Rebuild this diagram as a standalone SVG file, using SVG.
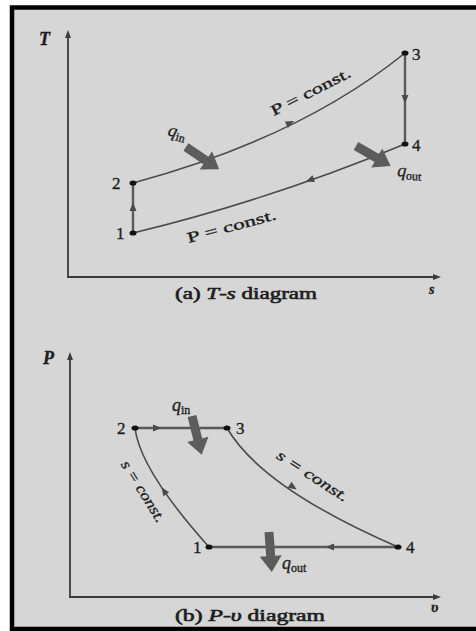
<svg xmlns="http://www.w3.org/2000/svg" width="476" height="631" viewBox="0 0 476 631">
<style>
.ax{stroke:#3c3c3c;stroke-width:1.8;fill:none}
.pr{stroke:#4a4a4a;stroke-width:1.6;fill:none}
.pv{stroke:#5a5a5a;stroke-width:2.4;fill:none}
.t{font-family:"Liberation Serif","Times New Roman",serif;fill:#1e1e1e;stroke:#1e1e1e;stroke-width:0.35}
.it{font-style:italic}
.num{font-size:17px}
.cap{font-size:16px;stroke-width:0.6}
.sub{font-size:12px}
.dot{fill:#111}
.ah{fill:#4a4a4a}
.big{fill:#5c5c5c}
</style>
<defs>
<polygon id="sa" points="4.5,0 -4,-3.5 -4,3.5"/>
<polygon id="axh" points="0,-6 -3,2 3,2"/>
<polygon id="tk" points="0,-4.5 24,-4.5 24,-11 40,0 24,11 24,4.5 0,4.5"/>
</defs>
<rect x="0" y="0" width="476" height="631" fill="#ffffff"/>
<rect x="12" y="7.5" width="480" height="621.5" fill="#d6d6d6" stroke="#000" stroke-width="4.5"/>

<g id="ts-axes">
<line class="ax" x1="68" y1="36" x2="68" y2="277"/>
<line class="ax" x1="67" y1="277" x2="434" y2="277"/>
<use href="#axh" x="68" y="36" fill="#3c3c3c"/>
<use href="#axh" transform="translate(435,277) rotate(90)" fill="#3c3c3c"/>
<text class="t it" x="39" y="45" font-size="18" font-weight="bold">T</text>
<text class="t it" x="429" y="294" font-size="14" font-weight="bold">s</text>
<text class="t cap" x="175" y="299" textLength="142" lengthAdjust="spacingAndGlyphs">(a) <tspan class="it">T</tspan>-<tspan class="it">s</tspan> diagram</text>
</g>

<g id="ts-connectors">
<path class="pr" d="M133,183 Q300,138 405,53"/>
<path class="pr" d="M133,233 Q270,200 405,144"/>
<line class="pv" x1="133" y1="233" x2="133" y2="183"/>
<line class="pv" x1="405" y1="53" x2="405" y2="144"/>
<use href="#sa" transform="translate(290,123) rotate(-26)" class="ah"/>
<use href="#sa" transform="translate(310,180) rotate(160)" class="ah"/>
<use href="#sa" transform="translate(133,207) rotate(-90)" class="ah"/>
<use href="#sa" transform="translate(405,99) rotate(90)" class="ah"/>
</g>

<g id="ts-n1"><ellipse class="dot" cx="133" cy="233" rx="3.5" ry="2.6"/><text class="t num" x="116" y="239">1</text></g>
<g id="ts-n2"><ellipse class="dot" cx="133" cy="183" rx="3.5" ry="2.6"/><text class="t num" x="112" y="189">2</text></g>
<g id="ts-n3"><ellipse class="dot" cx="405" cy="53" rx="3.5" ry="2.6"/><text class="t num" x="412" y="60">3</text></g>
<g id="ts-n4"><ellipse class="dot" cx="405" cy="144" rx="3.5" ry="2.6"/><text class="t num" x="412" y="151">4</text></g>

<g id="ts-labels">
<text class="t" font-size="15" transform="translate(313,96) rotate(-27)" text-anchor="middle" textLength="88" lengthAdjust="spacingAndGlyphs">P = const.</text>
<text class="t" font-size="15" transform="translate(233,231) rotate(-15)" text-anchor="middle" textLength="92" lengthAdjust="spacingAndGlyphs">P = const.</text>
</g>

<g id="ts-qin">
<use href="#tk" transform="translate(186,147) rotate(34)" class="big"/>
<text class="t" transform="translate(167,135) rotate(16)"><tspan class="it" font-size="18">q</tspan><tspan class="sub" dy="3">in</tspan></text>
</g>
<g id="ts-qout">
<use href="#tk" transform="translate(356,146) rotate(30)" class="big"/>
<text class="t" transform="translate(397,176) rotate(4)"><tspan class="it" font-size="18">q</tspan><tspan class="sub" dy="3">out</tspan></text>
</g>

<g id="pv-axes">
<line class="ax" x1="70" y1="358" x2="70" y2="597"/>
<line class="ax" x1="69" y1="597" x2="434" y2="597"/>
<use href="#axh" x="70" y="358" fill="#3c3c3c"/>
<use href="#axh" transform="translate(435,597) rotate(90)" fill="#3c3c3c"/>
<text class="t it" x="43" y="364" font-size="18" font-weight="bold">P</text>
<text class="t it" x="431" y="612" font-size="15" font-weight="bold">υ</text>
<text class="t cap" x="175" y="621" textLength="150" lengthAdjust="spacingAndGlyphs">(b) <tspan class="it">P</tspan>-<tspan class="it">υ</tspan> diagram</text>
</g>

<g id="pv-connectors">
<line class="pv" x1="135" y1="428" x2="227" y2="428"/>
<line class="pv" x1="209" y1="547" x2="398" y2="547"/>
<path class="pr" d="M135,428 Q140,470 209,547"/>
<path class="pr" d="M227,428 Q262,488 398,547"/>
<use href="#sa" transform="translate(157,428)" class="ah"/>
<use href="#sa" transform="translate(330,547) rotate(180)" class="ah"/>
<use href="#sa" transform="translate(164,491) rotate(235)" class="ah"/>
<use href="#sa" transform="translate(293,487) rotate(34)" class="ah"/>
</g>

<g id="pv-n1"><ellipse class="dot" cx="209" cy="547" rx="3.5" ry="2.6"/><text class="t num" x="193" y="553">1</text></g>
<g id="pv-n2"><ellipse class="dot" cx="135" cy="428" rx="3.5" ry="2.6"/><text class="t num" x="117" y="434">2</text></g>
<g id="pv-n3"><ellipse class="dot" cx="227" cy="428" rx="3.5" ry="2.6"/><text class="t num" x="236" y="434">3</text></g>
<g id="pv-n4"><ellipse class="dot" cx="398" cy="547" rx="3.5" ry="2.6"/><text class="t num" x="406" y="553">4</text></g>

<g id="pv-labels">
<text class="t it" font-size="15" transform="translate(139,494) rotate(58)" text-anchor="middle" textLength="70" lengthAdjust="spacingAndGlyphs">s = const.</text>
<text class="t it" font-size="15" transform="translate(310,480) rotate(33)" text-anchor="middle" textLength="82" lengthAdjust="spacingAndGlyphs">s = const.</text>
</g>

<g id="pv-qin">
<use href="#tk" transform="translate(192,416) rotate(76)" class="big"/>
<text class="t" x="172" y="411"><tspan class="it" font-size="18">q</tspan><tspan class="sub" dy="3">in</tspan></text>
</g>
<g id="pv-qout">
<use href="#tk" transform="translate(269,532) rotate(86)" class="big"/>
<text class="t" x="282" y="569"><tspan class="it" font-size="18">q</tspan><tspan class="sub" dy="3">out</tspan></text>
</g>
</svg>
